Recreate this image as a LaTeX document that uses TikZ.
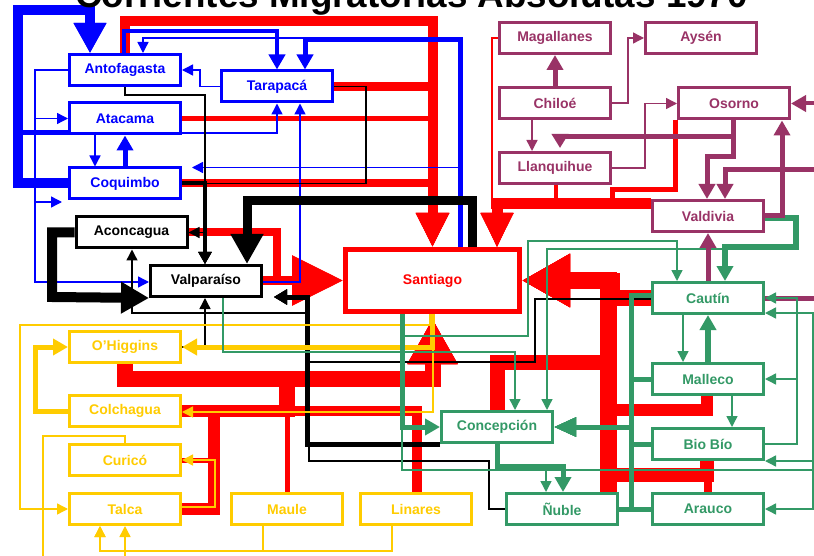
\documentclass[tikz,border=0pt]{standalone}
\usepackage{fontspec}
\setsansfont{Liberation Sans}
\usetikzlibrary{arrows.meta,backgrounds}
\definecolor{cb}{HTML}{0000FF}
\definecolor{cr}{HTML}{FF0000}
\definecolor{cp}{HTML}{993366}
\definecolor{cg}{HTML}{339966}
\definecolor{cy}{HTML}{FFCC00}
\tikzset{
  box/.style={draw=#1, text=#1, fill=white, line width=3pt, minimum width=111pt, minimum height=31pt, inner sep=0pt, font=\sffamily\bfseries\fontsize{14}{14}\selectfont},
  thn/.style={line width=1.4pt},
  tA/.style={-{Triangle[length=11pt,width=11pt]}},
  mA/.style={-{Triangle[length=15pt,width=16pt]}},
  kA/.style={-{Triangle[length=12pt,width=13pt]}},
  bA/.style={-{Triangle[length=30pt,width=31pt]}},
  rTop/.style={-{Triangle[length=34pt,width=31pt]}},
  rLeft/.style={-{Triangle[length=51pt,width=48pt]}},
  rUp/.style={-{Triangle[length=45pt,width=47pt]}, shorten >=5pt},
  rRight/.style={-{Triangle[length=48pt,width=50pt]}},
  vA/.style={-{Triangle[length=13pt,width=15pt]}, shorten >=11pt},
  gA/.style={-{Triangle[length=22pt,width=18pt]}},
}
\begin{document}
\begin{tikzpicture}[x=1pt,y=-1pt]
\useasboundingbox (0,0) rectangle (814,556);
\node[font=\sffamily\bfseries\fontsize{36.8}{40}\selectfont, anchor=base] (title) at (411.5,8) {Corrientes Migratorias Absolutas 1970};
% nodes
\node[box=cb] (Antofagasta) at (125,70) {Antofagasta};
\node[box=cb] (Tarapaca) at (277,86.5) {Tarapacá};
\node[box=cb] (Atacama) at (125,118.5) {Atacama};
\node[box=cb] (Coquimbo) at (125,183.5) {Coquimbo};
\node[box=black] (Aconcagua) at (131.5,232.5) {Aconcagua};
\node[box=black] (Valparaiso) at (206,281) {Valparaíso};
\node[box=cr, line width=5pt, minimum width=174pt, minimum height=62pt] (Santiago) at (432.5,280.5) {Santiago};
\node[box=cp] (Magallanes) at (555,38) {Magallanes};
\node[box=cp] (Aysen) at (701,38) {Aysén};
\node[box=cp] (Chiloe) at (555,103) {Chiloé};
\node[box=cp] (Osorno) at (734,103.5) {Osorno};
\node[box=cp] (Llanquihue) at (555,168) {Llanquihue};
\node[box=cp] (Valdivia) at (708,216) {Valdivia};
\node[box=cg] (Cautin) at (708,298) {Cautín};
\node[box=cg] (Malleco) at (708,379) {Malleco};
\node[box=cg] (BioBio) at (708,444) {Bio Bío};
\node[box=cg] (Arauco) at (708,509) {Arauco};
\node[box=cg] (Concepcion) at (497,427) {Concepción};
\node[box=cg] (Nuble) at (562,509) {Ñuble};
\node[box=cy] (OHiggins) at (125,347) {O’Higgins};
\node[box=cy] (Colchagua) at (125,411) {Colchagua};
\node[box=cy] (Curico) at (125,460) {Curicó};
\node[box=cy] (Talca) at (125,509) {Talca};
\node[box=cy] (Maule) at (287,509) {Maule};
\node[box=cy] (Linares) at (416,509) {Linares};
\coordinate (offA) at (43,570);
\coordinate (offB) at (125,570);
\begin{pgfonlayer}{background}
\fill[white] (0,0) rectangle (814,556);
% ---------------- RED
\begin{scope}[draw=cr]
\draw[line width=10pt, rTop] (Antofagasta.north) -- (125,21) -- (432.5,21) -- (Santiago.north);
\draw[line width=9pt, rTop] (Tarapaca.east) -- (Tarapaca.east -| 432.5,0) -- (Santiago.north);
\draw[line width=5pt, rTop] (Atacama.east) -- (Atacama.east -| 432.5,0) -- (Santiago.north);
\draw[line width=8pt, rTop] (Coquimbo.east) -- (Coquimbo.east -| 432.5,0) -- (Santiago.north);
\draw[line width=8pt, rLeft] (Aconcagua.east) -- (277,232.5) -- (277,280.5) -- (Santiago.west);
\draw[line width=9pt, rLeft] (Valparaiso.east |- Santiago.west) -- (Santiago.west);
\draw[line width=16pt, rUp] (OHiggins.south) -- (125,379) -- (432.5,379) -- (Santiago.south);
\draw[line width=12pt, rUp] (Colchagua.east) -- (287,411) -- (287,379) -- (432.5,379) -- (Santiago.south);
\draw[line width=16pt] (287,417) -- (287,372);
\draw[line width=5pt, rUp] (Maule.north) -- (287,379) -- (432.5,379) -- (Santiago.south);
\draw[line width=12pt, rUp] (Talca.east) -- (214,509) -- (214,411) -- (287,411) -- (287,379) -- (432.5,379) -- (Santiago.south);
\draw[line width=5pt, rUp] (Curico.east) -- (214,460) -- (214,411) -- (287,411) -- (287,379) -- (432.5,379) -- (Santiago.south);
\draw[line width=10pt, rUp] (Linares.north -| 417,0) -- (417,411) -- (287,411) -- (287,379) -- (432.5,379) -- (Santiago.south);
\draw[line width=16pt, rRight] (Cautin.west) -- (612,298) -- (612,280.5) -- (Santiago.east);
\draw[line width=17pt, rRight] (Nuble.north -| 608,0) -- (608,280.5) -- (Santiago.east);
\draw[line width=12pt, rRight] (Malleco.south -| 707,0) -- (707,410) -- (608,410) -- (608,280.5) -- (Santiago.east);
\draw[line width=14pt, rRight] (BioBio.south -| 707,0) -- (707,475) -- (608,475) -- (608,280.5) -- (Santiago.east);
\draw[line width=8pt, rRight] (Arauco.north -| 708,0) -- (708,475) -- (608,475) -- (608,280.5) -- (Santiago.east);
\draw[line width=15pt, rRight] (Concepcion.north) -- (497,362) -- (608,362) -- (608,280.5) -- (Santiago.east);
\draw[line width=11pt, rTop] (Valdivia.west |- 0,204) -- (497,204) -- (Santiago.north -| 497,0);
\draw[line width=4pt, rTop] (Llanquihue.south -| 556,0) -- (556,204) -- (497,204) -- (Santiago.north -| 497,0);
\draw[line width=5pt, rTop] (Osorno.south -| 675.5,0) -- (675.5,190) -- (612.5,190) -- (612.5,204) -- (497,204) -- (Santiago.north -| 497,0);
\draw[line width=2pt, rTop] (Magallanes.west) -- (492,38) -- (492,208) -- (497,208) -- (Santiago.north -| 497,0);
\end{scope}
% ---------------- BLUE
\begin{scope}[draw=cb]
\draw[line width=10pt, bA] (Coquimbo.west) -- (18,183.5) -- (18,10) -- (90,10) -- (Antofagasta.north -| 90,0);
\draw[line width=5pt, bA] (Atacama.west |- 0,133) -- (18,133) -- (18,10) -- (90,10) -- (Antofagasta.north -| 90,0);
\draw[line width=5pt, mA] (Santiago.north -| 460,0) -- (460,40) -- (305,40) -- (Tarapaca.north -| 305,0);
\draw[line width=4pt, mA] (Antofagasta.north -| 124,0) -- (124,31) -- (277,31) -- (Tarapaca.north);
\draw[thn, tA] (Santiago.north -| 460,0) -- (460,38) -- (143,38) -- (Antofagasta.north -| 143,0);
\draw[thn, tA] (Tarapaca.west) -- (200,86.5) -- (200,70) -- (Antofagasta.east);
\draw[thn, tA] (Atacama.east |- 0,133) -- (277,133) -- (Tarapaca.south);
\draw[thn, tA] (Antofagasta.west) -- (35,70) -- (35,282) -- (Valparaiso.west |- 0,282);
\draw[thn, tA] (Antofagasta.west) -- (35,70) -- (35,118.5) -- (Atacama.west);
\draw[thn, tA, shorten >=6pt] (Antofagasta.west) -- (35,70) -- (35,202) -- (Coquimbo.west |- 0,202);
\draw[thn, tA] (Atacama.south -| 95,0) -- (Coquimbo.north -| 95,0);
\draw[line width=5pt, mA] (Coquimbo.north) -- (Atacama.south);
\draw[thn, tA, shorten >=10pt] (Santiago.north -| 460,0) -- (460,167.5) -- (Coquimbo.east |- 0,167.5);
\draw[thn, tA] (Valparaiso.east |- 0,282) -- (300,282) -- (Tarapaca.south -| 300,0);
\end{scope}
% ---------------- BLACK
\begin{scope}[draw=black]
\draw[thn, kA] (Antofagasta.south) -- (125,95) -- (205,95) -- (Valparaiso.north -| 205,0);
\draw[line width=4pt, kA] (Coquimbo.east) -- (205,183.5) -- (Valparaiso.north -| 205,0);
\draw[thn, tA] (Coquimbo.east) -- (205,183.5) -- (205,232.5) -- (Aconcagua.east);
\draw[thn, kA] (Tarapaca.east) -- (366,86.5) -- (366,183.5) -- (205,183.5) -- (Valparaiso.north -| 205,0);
\draw[line width=9pt, bA] (Santiago.north -| 472,0) -- (472,201) -- (247,201) -- (Valparaiso.north -| 247,0);
\draw[line width=10pt, -{Triangle[length=28pt,width=30pt]}] (Aconcagua.west) -- (52,232.5) -- (52,297) -- (Valparaiso.south west);
\draw[line width=5pt, vA] (Concepcion.south west) -- (307,444) -- (307,297) -- (Valparaiso.east |- 0,297);
\draw[thn, tA] (Concepcion.south west) -- (307,444) -- (307,313) -- (132,313) -- (Aconcagua.south -| 132,0);
\draw[thn, tA] (OHiggins.east) -- (205,347) -- (Valparaiso.south -| 205,0);
\draw[thn, vA] (Cautin.west |- 0,299) -- (535,299) -- (535,362) -- (307,362) -- (307,297) -- (Valparaiso.east |- 0,297);
\draw[thn, vA] (Nuble.west) -- (489,509) -- (489,461) -- (309,461) -- (309,297) -- (Valparaiso.east |- 0,297);
\end{scope}
% ---------------- YELLOW
\begin{scope}[draw=cy]
\draw[line width=5pt, mA] (Santiago.south -| 432,0) -- (432,347) -- (OHiggins.east);
\draw[thn, tA] (Santiago.south -| 430,0) -- (430,325) -- (20,325) -- (20,509) -- (Talca.west);
\draw[thn, tA] (Santiago.south -| 433,0) -- (433,412) -- (Colchagua.east |- 0,412);
\draw[line width=5pt, mA] (Colchagua.west) -- (35,411) -- (35,347) -- (OHiggins.west);
\draw[thn, tA] (Talca.east |- 0,507) -- (215,507) -- (215,460) -- (Curico.east);
\draw[thn] (Curico.north) -- (125,436) -- (43,436) -- (offA);
\draw[thn, tA] (offB) -- (Talca.south);
\draw[thn, tA] (Maule.south -| 263,0) -- (263,551) -- (100,551) -- (Talca.south -| 100,0);
\draw[thn, tA] (Linares.south -| 392,0) -- (392,551) -- (100,551) -- (Talca.south -| 100,0);
\end{scope}
% ---------------- GREEN (behind purple)
\begin{scope}[draw=cg]
\draw[line width=6pt, mA] (Valdivia.east |- 0,218) -- (796,218) -- (796,247) -- (725,247) -- (Cautin.north -| 725,0);
\draw[thn, tA] (Valdivia.east |- 0,218) -- (796,218) -- (796,249) -- (547,249) -- (Concepcion.north -| 547,0);
\end{scope}
% ---------------- PURPLE
\begin{scope}[draw=cp]
\draw[line width=5pt, mA] (Chiloe.north) -- (Magallanes.south);
\draw[thn, tA] (Chiloe.east) -- (628,103) -- (628,38) -- (Aysen.west);
\draw[thn, tA] (Chiloe.south -| 532,0) -- (Llanquihue.north -| 532,0);
\draw[thn, tA] (Llanquihue.east) -- (645,168) -- (645,103.5) -- (Osorno.west);
\draw[line width=5pt, -{Triangle[length=14pt,width=16pt]}, shorten >=3pt] (Osorno.south -| 733,0) -- (733,137) -- (560,137) -- (Llanquihue.north -| 560,0);
\draw[line width=5pt, mA] (Osorno.south -| 733,0) -- (733,157) -- (707,157) -- (Valdivia.north -| 707,0);
\draw[line width=5pt, mA] (Cautin.east) -- (830,298) -- (830,170) -- (725,170) -- (Valdivia.north -| 725,0);
\draw[line width=4pt, mA] (Cautin.east) -- (830,298) -- (830,103.5) -- (Osorno.east);
\draw[line width=5pt, mA] (Valdivia.east) -- (782,216) -- (Osorno.south -| 782,0);
\draw[line width=5pt, mA] (Cautin.north) -- (Valdivia.south);
\end{scope}
% ---------------- GREEN
\begin{scope}[draw=cg]
\draw[thn, tA] (Santiago.south -| 402,0) -- (402,336) -- (528,336) -- (528,241) -- (677,241) -- (Cautin.north -| 677,0);
\draw[line width=5pt, mA] (Santiago.south -| 402,0) -- (402,427) -- (Concepcion.west);
\draw[thn, tA] (Valparaiso.south -| 223,0) -- (223,352) -- (515,352) -- (Concepcion.north -| 515,0);
\draw[thn, tA] (Santiago.south -| 402,0) -- (402,470) -- (546,470) -- (Nuble.north -| 546,0);
\draw[thn, tA] (Santiago.south -| 402,0) -- (402,470) -- (813,470) -- (813,313) -- (Cautin.east |- 0,313);
\draw[thn, tA] (Santiago.south -| 402,0) -- (402,470) -- (813,470) -- (813,461) -- (BioBio.east |- 0,461);
\draw[thn, tA] (Santiago.south -| 402,0) -- (402,470) -- (813,470) -- (813,509) -- (Arauco.east);
\draw[line width=5pt, mA] (Concepcion.south) -- (497,466) -- (563,466) -- (Nuble.north -| 563,0);
\draw[line width=5pt, gA] (Cautin.west |- 0,295) -- (631,295) -- (631,427) -- (Concepcion.east);
\draw[line width=5pt, gA] (Malleco.west) -- (631,379) -- (631,427) -- (Concepcion.east);
\draw[line width=5pt, gA] (BioBio.west) -- (631,444) -- (631,427) -- (Concepcion.east);
\draw[line width=5pt, gA] (Arauco.west) -- (631,509) -- (631,427) -- (Concepcion.east);
\draw[line width=5pt, gA] (Nuble.east) -- (631,509) -- (631,427) -- (Concepcion.east);
\draw[thn, tA] (Cautin.south -| 683,0) -- (Malleco.north -| 683,0);
\draw[line width=6pt, mA] (Malleco.north) -- (Cautin.south);
\draw[thn, tA] (Malleco.south -| 732,0) -- (BioBio.north -| 732,0);
\draw[thn, tA] (BioBio.east) -- (797,444) -- (797,298) -- (Cautin.east);
\draw[thn, tA] (BioBio.east) -- (797,444) -- (797,379) -- (Malleco.east);
\end{scope}
\end{pgfonlayer}
\end{tikzpicture}
\end{document}
